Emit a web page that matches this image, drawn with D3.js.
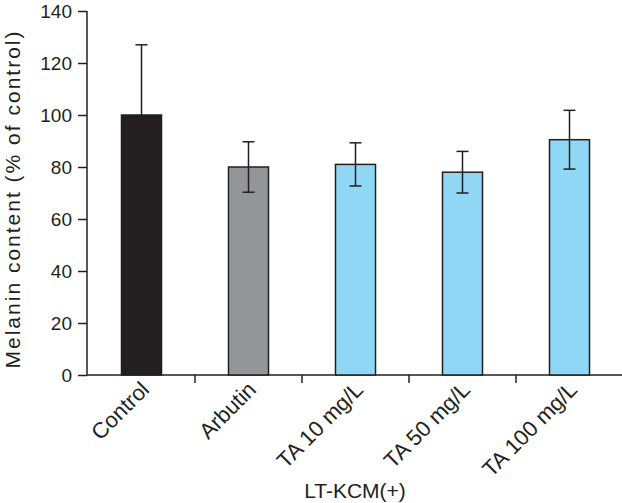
<!DOCTYPE html>
<html>
<head>
<meta charset="utf-8">
<script src="https://cdn.jsdelivr.net/npm/d3@7"></script>
<style>
  html, body { margin: 0; padding: 0; background: #fff; }
  svg { display: block; font-family: "Liberation Sans", Arial, Helvetica, sans-serif; }
</style>
</head>
<body>
<svg id="chart" width="622" height="503"></svg>
<script>
const categories = ["Control", "Arbutin", "TA 10 mg/L", "TA 50 mg/L", "TA 100 mg/L"];
const means = [100, 80, 81, 78, 90.5];
const errors = [27, 9.7, 8.3, 8, 11.3];
const barColors = ["#231f20", "#939598", "#8fd7f4", "#8fd7f4", "#8fd7f4"];
const yTicks = [0, 20, 40, 60, 80, 100, 120, 140];
const yTitle = "Melanin content (% of control)";
const xTitle = "LT-KCM(+)";

const svg = d3.select("#chart");
const ink = "#231f20";

const y = d3.scaleLinear().domain([0, 140]).range([375, 11]);
const x = d3.scaleBand().domain(categories).range([88, 623]).paddingInner(0.626).paddingOuter(0.313);

// y axis
const yAxis = d3.axisLeft(y).tickValues(yTicks).tickSize(9).tickPadding(6).tickSizeOuter(0);
const gy = svg.append("g").attr("transform", "translate(87,0)").call(yAxis);
gy.select(".domain").attr("stroke", ink).attr("stroke-width", 1.5).attr("d", "M0,11V375");
gy.selectAll(".tick line").attr("stroke", ink).attr("stroke-width", 1.5);
gy.selectAll(".tick text").attr("fill", ink).style("font-size", "19px").attr("dy", "0.35em");

// x axis line and tick marks between categories
svg.append("line").attr("x1", 87).attr("x2", 622).attr("y1", y(0)).attr("y2", y(0))
  .attr("stroke", ink).attr("stroke-width", 1.5);
svg.append("g").selectAll("line").data(categories.slice(1)).join("line")
  .attr("x1", d => x(d) - x.step() * x.paddingInner() / 2)
  .attr("x2", d => x(d) - x.step() * x.paddingInner() / 2)
  .attr("y1", y(0)).attr("y2", y(0) + 8)
  .attr("stroke", ink).attr("stroke-width", 1.5);

// bars
svg.append("g").selectAll("rect").data(categories).join("rect")
  .attr("x", d => x(d))
  .attr("y", (d, i) => y(means[i]))
  .attr("width", x.bandwidth())
  .attr("height", (d, i) => y(0) - y(means[i]))
  .attr("fill", (d, i) => barColors[i])
  .attr("stroke", ink).attr("stroke-width", 1.5);

// error bars
const eb = svg.append("g").attr("stroke", ink).attr("stroke-width", 1.5);
categories.forEach((c, i) => {
  const cx = x(c) + x.bandwidth() / 2;
  const top = y(means[i] + errors[i]);
  const bot = y(means[i] - errors[i]);
  eb.append("line").attr("x1", cx).attr("x2", cx).attr("y1", top).attr("y2", bot);
  eb.append("line").attr("x1", cx - 6).attr("x2", cx + 6).attr("y1", top).attr("y2", top);
  if (i > 0) eb.append("line").attr("x1", cx - 6).attr("x2", cx + 6).attr("y1", bot).attr("y2", bot);
});

// category labels
svg.append("g").selectAll("text").data(categories).join("text")
  .attr("transform", d => `translate(${x(d) + x.bandwidth() / 2 + 9},${y(0) + 16}) rotate(-45)`)
  .attr("text-anchor", "end")
  .attr("fill", ink)
  .style("font-size", "22px")
  .text(d => d);

// axis titles
svg.append("text")
  .attr("transform", `translate(20,199) rotate(-90)`)
  .attr("text-anchor", "middle")
  .attr("fill", ink)
  .style("font-size", "21px")
  .style("letter-spacing", "2px")
  .text(yTitle);

svg.append("text")
  .attr("x", 355).attr("y", 498)
  .attr("text-anchor", "middle")
  .attr("fill", ink)
  .style("font-size", "21px")
  .text(xTitle);
</script>
</body>
</html>
